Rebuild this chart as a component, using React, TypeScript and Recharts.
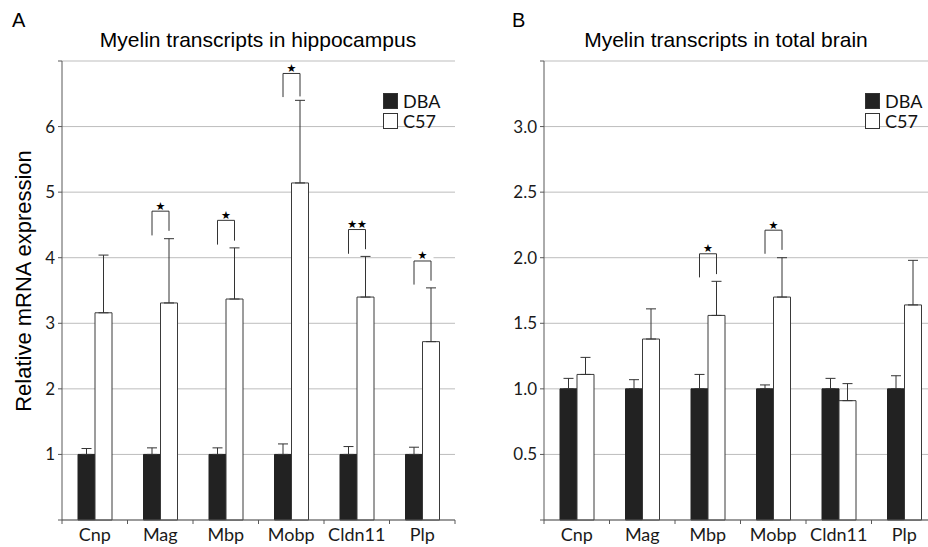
import React from "react";
import {
  BarChart,
  Bar,
  XAxis,
  YAxis,
  CartesianGrid,
  ErrorBar,
  LabelList,
  Legend,
} from "recharts";

const genes = ["Cnp", "Mag", "Mbp", "Mobp", "Cldn11", "Plp"];
const seriesOrder = ["dba", "c57"];

// A: hippocampus
const hipDBA = [1, 1, 1, 1, 1, 1];
const hipDBAErr = [0.09, 0.1, 0.1, 0.16, 0.12, 0.11];
const hipC57 = [3.16, 3.31, 3.37, 5.14, 3.4, 2.72];
const hipC57Err = [0.88, 0.98, 0.78, 1.26, 0.62, 0.82];
const hipStars = ["", "★", "★", "★", "★★", "★"];
const hipBracketTop = [0, 4.71, 4.57, 6.81, 4.43, 3.95];
const hipBracketLeft = [0, 4.34, 4.2, 6.45, 4.06, 3.59];
const hipBracketRight = [0, 4.41, 4.26, 6.46, 4.13, 3.65];
const hipTicks = [0, 1, 2, 3, 4, 5, 6, 7];

// B: total brain
const brainDBA = [1, 1, 1, 1, 1, 1];
const brainDBAErr = [0.08, 0.07, 0.11, 0.03, 0.08, 0.1];
const brainC57 = [1.11, 1.38, 1.56, 1.7, 0.91, 1.64];
const brainC57Err = [0.13, 0.23, 0.26, 0.3, 0.13, 0.34];
const brainStars = ["", "", "★", "★", "", ""];
const brainBracketTop = [0, 0, 2.03, 2.21, 0, 0];
const brainBracketLeft = [0, 0, 1.85, 2.03, 0, 0];
const brainBracketRight = [0, 0, 1.875, 2.06, 0, 0];
const brainTicks = [0, 0.5, 1, 1.5, 2, 2.5, 3, 3.5];

const AXIS = "#595959";
const GRID = "#bdbdbd";
const PLOT_W = 393;
const TICK_SIZE = 4;
const TICK_MARGIN = 4;

function buildRows(dba: number[], dbaErr: number[], c57: number[], c57Err: number[]) {
  return genes.map((g, i) => ({
    gene: g,
    dba: dba[i],
    dbaErr: [0, dbaErr[i]],
    c57: c57[i],
    c57Err: [0, c57Err[i]],
  }));
}

const CategoryTick = (props: any) => {
  const { x, y, payload, index } = props;
  const band = PLOT_W / genes.length;
  const axisY = y - TICK_SIZE - TICK_MARGIN;
  return (
    <g>
      <line x1={x - band / 2} x2={x - band / 2} y1={axisY} y2={axisY + 4} stroke={AXIS} />
      {index === genes.length - 1 && (
        <line x1={x + band / 2} x2={x + band / 2} y1={axisY} y2={axisY + 4} stroke={AXIS} />
      )}
      <text x={x} y={y} dy="0.71em" textAnchor="middle" fill="#1a1a1a" fontSize={18} fontFamily="Lato">
        {payload.value}
      </text>
    </g>
  );
};

const LegendBox = (props: any) => {
  const items = [...(props.payload || [])].sort(
    (a: any, b: any) => seriesOrder.indexOf(a.dataKey) - seriesOrder.indexOf(b.dataKey)
  );
  return (
    <div style={{ fontFamily: "Lato", fontSize: 18, color: "#111" }}>
      {items.map((entry: any) => (
        <div key={entry.value} style={{ display: "flex", alignItems: "center", height: 20 }}>
          <span
            style={{
              display: "inline-block",
              width: 15,
              height: 16,
              background: entry.color,
              border: "1px solid #333",
              boxSizing: "border-box",
              marginRight: 5,
            }}
          />
          <span>{entry.value}</span>
        </div>
      ))}
    </div>
  );
};

function makeBracket(c57: number[], stars: string[], top: number[], left: number[], right: number[]) {
  return (props: any) => {
    const { viewBox, index } = props;
    if (!viewBox || !stars[index]) return null;
    const { x, y, width, height } = viewBox;
    const base = y + height;
    const perUnit = height / c57[index];
    const toY = (v: number) => base - v * perUnit;
    const xr = x + width / 2;
    const xl = xr - width;
    const yt = toY(top[index]);
    const mid = (xl + xr) / 2;
    return (
      <g>
        <rect x={mid - 11} y={yt - 9} width={22} height={8} fill="#fff" />
        <path
          d={`M${xl},${toY(left[index])}V${yt}H${xr}V${toY(right[index])}`}
          fill="none"
          stroke="#333"
          strokeWidth={1}
        />
        <text x={mid} y={yt - 1.5} textAnchor="middle" fontSize={11} fontFamily="DejaVu Sans" fill="#000">
          {stars[index]}
        </text>
      </g>
    );
  };
}

interface PanelProps {
  rows: any[];
  width: number;
  left: number;
  yWidth: number;
  marginLeft: number;
  ticks: number[];
  fmt: (v: number) => string;
  bracket: (p: any) => any;
  legendLeft: number;
}

function Panel({ rows, width, left, yWidth, marginLeft, ticks, fmt, bracket, legendLeft }: PanelProps) {
  return (
    <div style={{ position: "absolute", left, top: 0 }}>
      <BarChart
        width={width}
        height={547}
        data={rows}
        margin={{ top: 61, right: 9, bottom: 0, left: marginLeft }}
        barSize={17}
        barGap={0}
      >
        <CartesianGrid vertical={false} stroke={GRID} />
        <XAxis
          dataKey="gene"
          height={27}
          tickLine={false}
          tickSize={TICK_SIZE}
          tickMargin={TICK_MARGIN}
          axisLine={{ stroke: AXIS }}
          tick={<CategoryTick />}
          interval={0}
        />
        <YAxis
          width={yWidth}
          domain={[ticks[0], ticks[ticks.length - 1]]}
          ticks={ticks}
          tickFormatter={fmt}
          tickSize={TICK_SIZE}
          tickMargin={3}
          tickLine={{ stroke: AXIS }}
          axisLine={{ stroke: AXIS }}
          tick={{ fill: "#1a1a1a", fontSize: 17, fontFamily: "Lato" }}
          interval={0}
        />
        <YAxis
          yAxisId="border"
          orientation="right"
          width={0}
          tick={false}
          tickLine={false}
          axisLine={{ stroke: GRID }}
        />
        <Legend
          layout="vertical"
          align="center"
          verticalAlign="middle"
          content={<LegendBox />}
          wrapperStyle={{ top: 91, left: legendLeft, width: "auto" }}
        />
        <Bar dataKey="dba" name="DBA" fill="#222222" stroke="#222222" isAnimationActive={false}>
          <ErrorBar dataKey="dbaErr" width={5} stroke="#333" strokeWidth={1} direction="y" />
        </Bar>
        <Bar dataKey="c57" name="C57" fill="#ffffff" stroke="#3a3a3a" isAnimationActive={false}>
          <ErrorBar dataKey="c57Err" width={5} stroke="#333" strokeWidth={1} direction="y" />
          <LabelList dataKey="c57" content={bracket} />
        </Bar>
      </BarChart>
    </div>
  );
}

const hipRows = buildRows(hipDBA, hipDBAErr, hipC57, hipC57Err);
const brainRows = buildRows(brainDBA, brainDBAErr, brainC57, brainC57Err);

export default function App() {
  const titleFont = "'Liberation Sans', Arial, sans-serif";
  return (
    <div
      style={{
        position: "absolute",
        left: 0,
        top: 0,
        width: 928,
        height: 547,
        overflow: "hidden",
        background: "#fff",
      }}
    >
      <Panel
        rows={hipRows}
        width={464}
        left={0}
        yWidth={40}
        marginLeft={22}
        ticks={hipTicks}
        fmt={(v) => (v === 0 || v === 7 ? "" : String(v))}
        bracket={makeBracket(hipC57, hipStars, hipBracketTop, hipBracketLeft, hipBracketRight)}
        legendLeft={383}
      />
      <Panel
        rows={brainRows}
        width={482}
        left={464}
        yWidth={40}
        marginLeft={40}
        ticks={brainTicks}
        fmt={(v) => (v === 0 || v === 3.5 ? "" : v.toFixed(1))}
        bracket={makeBracket(brainC57, brainStars, brainBracketTop, brainBracketLeft, brainBracketRight)}
        legendLeft={401}
      />
      <svg
        width={928}
        height={547}
        style={{ position: "absolute", left: 0, top: 0, pointerEvents: "none" }}
      >
        <g fontFamily={titleFont} fill="#000">
          <text x={12} y={27} fontSize={20}>A</text>
          <text x={512} y={27} fontSize={20}>B</text>
          <text x={258} y={47} fontSize={21} textAnchor="middle">
            Myelin transcripts in hippocampus
          </text>
          <text x={726} y={47} fontSize={21} textAnchor="middle">
            Myelin transcripts in total brain
          </text>
          <text
            x={0}
            y={0}
            fontSize={22}
            textAnchor="middle"
            transform="translate(31,281) rotate(-90)"
          >
            Relative mRNA expression
          </text>
        </g>
      </svg>
    </div>
  );
}
